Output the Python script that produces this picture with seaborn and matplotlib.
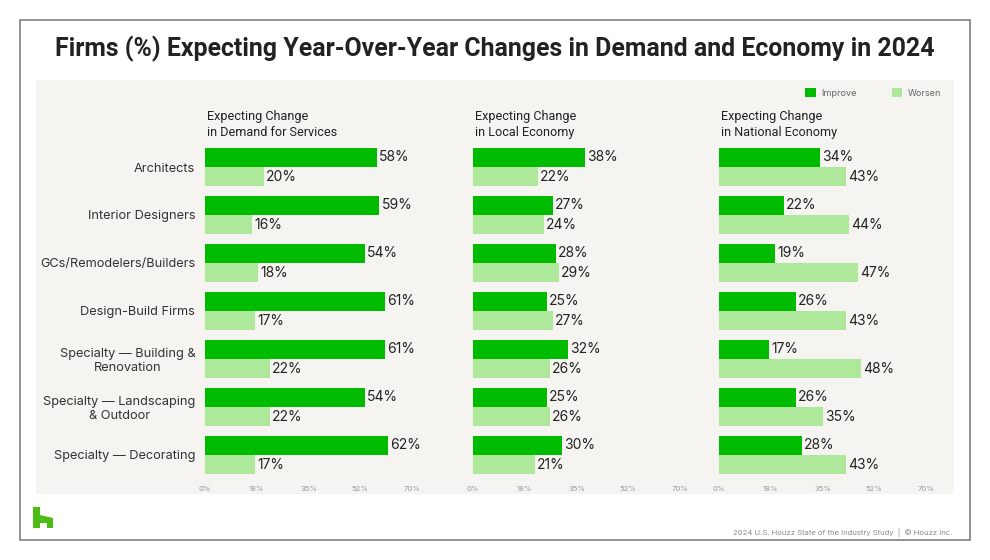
import matplotlib
matplotlib.use("Agg")
import matplotlib.pyplot as plt
from matplotlib.patches import Rectangle, Polygon, Patch
import seaborn as sns
import pandas as pd

categories = ["Architects", "Interior Designers", "GCs/Remodelers/Builders",
              "Design-Build Firms", "Specialty — Building &\nRenovation",
              "Specialty — Landscaping\n& Outdoor", "Specialty — Decorating"]
series = ["Improve", "Worsen"]
panel_titles = ["Expecting Change\nin Demand for Services",
                "Expecting Change\nin Local Economy",
                "Expecting Change\nin National Economy"]
demand_improve = [58, 59, 54, 61, 61, 54, 62]
demand_worsen = [20, 16, 18, 17, 22, 22, 17]
local_improve = [38, 27, 28, 25, 32, 25, 30]
local_worsen = [22, 24, 29, 27, 26, 26, 21]
national_improve = [34, 22, 19, 26, 17, 26, 28]
national_worsen = [43, 44, 47, 43, 48, 35, 43]
tick_values = [0, 17.5, 35, 52.5, 70]
tick_labels = ["0%", "18%", "35%", "52%", "70%"]

panels = [(demand_improve, demand_worsen), (local_improve, local_worsen),
          (national_improve, national_worsen)]

sns.set_theme(style="white")
plt.rcParams["font.family"] = ["Inter", "DejaVu Sans"]

C_IMP = "#00BB00"
C_WOR = "#AEE89A"
BG = "#F5F4F0"

W, H = 990, 560
fig = plt.figure(figsize=(9.9, 5.6), dpi=100)
fig.patch.set_facecolor("white")

def fx(x):
    return x / W

def fy(y):
    return 1 - y / H

# outer frame and panel
fig.add_artist(Rectangle((fx(20), fy(540)), 950 / W, 520 / H, fill=False,
                         edgecolor="#8a8a8a", lw=1.3, transform=fig.transFigure, zorder=0))
fig.add_artist(Rectangle((fx(36), fy(494)), 918 / W, 414 / H, facecolor=BG,
                         edgecolor="none", transform=fig.transFigure, zorder=0))

fig.text(fx(495), fy(49), "Firms (%) Expecting Year-Over-Year Changes in Demand and Economy in 2024",
         ha="center", va="center", fontsize=17.9, fontweight="bold", color="#222222",
         family=["Roboto", "DejaVu Sans"])

lefts = [205, 473, 719]
for i, (left, (imp, wor)) in enumerate(zip(lefts, panels)):
    ax = fig.add_axes([fx(left), fy(479), 207 / W, 336 / H])
    ax.set_facecolor("none")
    df = pd.DataFrame({
        "category": categories * 2,
        "series": ["Improve"] * len(categories) + ["Worsen"] * len(categories),
        "value": imp + wor,
    })
    sns.barplot(data=df, y="category", x="value", hue="series", hue_order=series,
                order=categories, orient="h", palette=[C_IMP, C_WOR], width=0.8,
                saturation=1, legend=False, linewidth=0, edgecolor="none", ax=ax)
    for cont, vals in zip(ax.containers, [imp, wor]):
        ax.bar_label(cont, labels=[f"{v}%" for v in vals], padding=1.5,
                     fontsize=10, color="#222222")
    ax.set_xlim(0, 70)
    ax.set_xticks(tick_values)
    ax.set_xticklabels(tick_labels)
    ax.set_xlabel("")
    ax.set_ylabel("")
    ax.tick_params(axis="x", length=0, pad=5, labelsize=5.5, labelcolor="#9a9a9a")
    ax.tick_params(axis="y", length=0, pad=7, labelsize=9.2, labelcolor="#333333")
    if i == 0:
        for lab in ax.get_yticklabels():
            lab.set_multialignment("center")
    else:
        ax.set_yticklabels([])
    for s in ax.spines.values():
        s.set_visible(False)
    fig.text(fx(left + 2), fy(124.5), panel_titles[i], ha="left", va="center",
             fontsize=9.1, color="#222222", linespacing=1.3,
             family=["Roboto", "DejaVu Sans"])

handles = [Patch(facecolor=C_IMP, edgecolor="none"), Patch(facecolor=C_WOR, edgecolor="none")]
fig.legend(handles, series, loc="center left", bbox_to_anchor=(fx(805), fy(93)),
           ncol=2, frameon=False, fontsize=6.5, labelcolor="#666666",
           handlelength=1.2, handleheight=1.2, handletextpad=0.55, columnspacing=3.9,
           borderpad=0, borderaxespad=0)

# logo
logo = [(33, 507), (40, 507), (40, 515), (53, 518), (53, 528), (47, 528), (47, 523),
        (40, 523), (40, 528), (33, 528)]
fig.add_artist(Polygon([(fx(x), fy(y)) for x, y in logo], closed=True,
                       facecolor="#4DBC15", edgecolor="none", transform=fig.transFigure))

fig.text(fx(952), fy(533), "2024 U.S. Houzz State of the Industry Study  |  © Houzz Inc.",
         ha="right", va="center", fontsize=5.5, color="#8a8a8a")

fig.savefig("out.png", dpi=100)
